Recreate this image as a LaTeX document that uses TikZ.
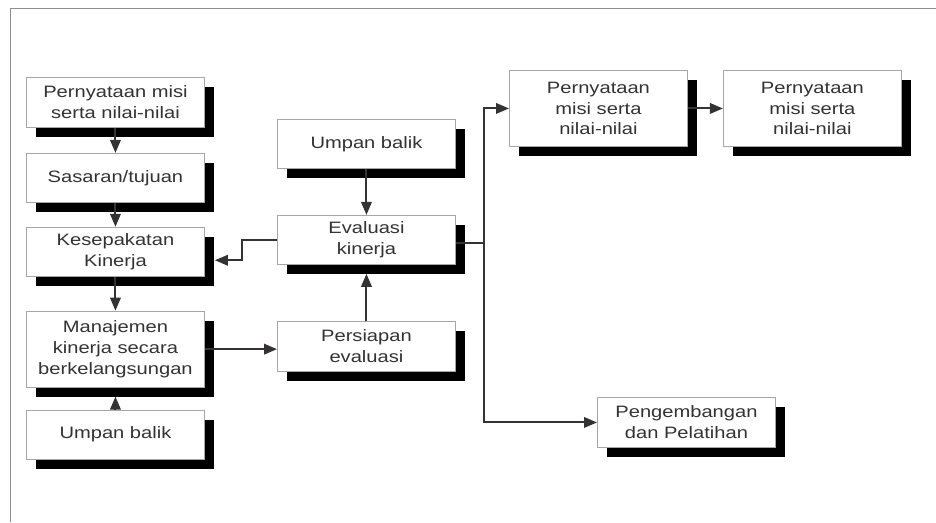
\documentclass[tikz,border=0pt]{standalone}
\usepackage{fontspec}
\setmainfont{Liberation Sans}[FakeStretch=1.22]
\usepackage{xcolor}
\usepackage{tikz}
\usetikzlibrary{positioning,arrows.meta,shadows}
\definecolor{ink}{HTML}{353233}
\definecolor{rim}{HTML}{A6A6A6}
\definecolor{pagerule}{HTML}{8E8E8E}

\begin{document}
\begin{tikzpicture}[
    x=1pt, y=-1pt,
    card/.style={draw=rim, line width=0.9pt, fill=white, text=ink, minimum width=178pt, minimum height=50pt, align=center, inner sep=3pt, font=\fontsize{16.5}{20.8}\selectfont, drop shadow={shadow xshift=10pt, shadow yshift=-9.5pt, fill=black, opacity=1}},
    tallcard/.style={card, minimum height=76pt},
    arr/.style={-{Triangle[length=13pt,width=10.5pt]}, line width=2pt, draw=ink},
    link/.style={line width=2pt, draw=ink}
]
    \useasboundingbox (0,0) rectangle (936,522);
    \draw[pagerule, line width=1pt] (10,522) -- (10,8) -- (936,8);

    \node[card, anchor=north west] at (26,77) (misi) {Pernyataan misi\\serta nilai-nilai};
    \node[card, minimum height=49pt, below=25pt of misi] (sasaran) {Sasaran/tujuan};
    \node[card, minimum height=49pt, below=24pt of sasaran] (sepakat) {Kesepakatan\\Kinerja};
    \node[tallcard, below=34pt of sepakat] (manajemen) {Manajemen\\kinerja secara\\berkelangsungan};
    \node[card, minimum height=49pt, below=22pt of manajemen] (balikkiri) {Umpan balik};

    \node[card, minimum height=49pt, anchor=north west] at (277,119) (balikatas) {Umpan balik};
    \node[card, minimum height=49pt, below=46pt of balikatas] (evaluasi) {Evaluasi\\kinerja};
    \node[card, below=56pt of evaluasi] (persiapan) {Persiapan\\evaluasi};

    \node[tallcard, anchor=north west] at (509,70) (misikanan) {Pernyataan\\misi serta\\nilai-nilai};
    \node[tallcard, right=35pt of misikanan] (misiujung) {Pernyataan\\misi serta\\nilai-nilai};
    \node[card, anchor=north west] at (597,397) (latih) {Pengembangan\\dan Pelatihan};

    \draw[arr] (misi) -- (sasaran);
    \draw[arr] (sasaran) -- (sepakat);
    \draw[arr] (sepakat) -- (manajemen);
    \draw[arr, shorten >=9pt] (balikkiri) -- (manajemen);
    \draw[arr] (balikatas) -- (evaluasi);
    \draw[arr, shorten >=9pt] (persiapan) -- (evaluasi);
    \draw[arr] (manajemen.east) -- (manajemen.east -| persiapan.west);
    \draw[arr] (evaluasi.west) -- ++(-35,0) |- ([xshift=10pt,yshift=-8.5pt]sepakat.east);

    \coordinate (cabang) at ([xshift=28pt,yshift=-3pt]evaluasi.east);
    \draw[link] ([yshift=-3pt]evaluasi.east) -- (cabang);
    \draw[arr] (cabang) |- (misikanan.west);
    \draw[arr] (cabang) |- (latih.west);
    \draw[arr] (misikanan) -- (misiujung);
\end{tikzpicture}
\end{document}
